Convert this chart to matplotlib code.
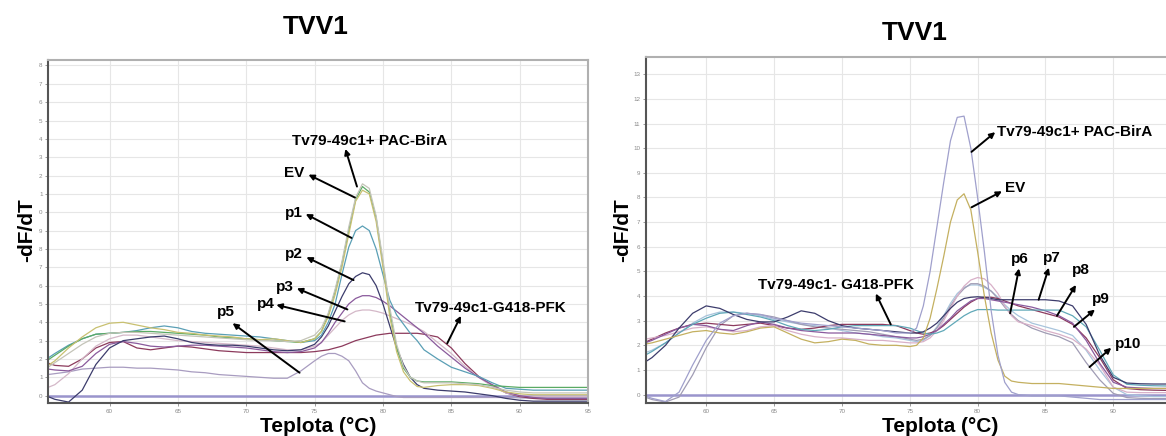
import matplotlib
matplotlib.use("Agg")
import matplotlib.pyplot as plt

plt.rcParams['font.family'] = ['Liberation Sans', 'DejaVu Sans']

# temperature grid (°C), denser around the melt peaks
temps = [55, 56, 57, 58, 59, 60, 61, 62, 63, 64,
         65, 66, 67, 68, 69, 70, 71, 72, 73, 74,
         75, 75.5, 76, 76.5, 77, 77.5, 78, 78.5, 79, 79.5,
         80, 80.5, 81, 81.5, 82, 82.5, 83, 84, 85, 86,
         87, 88, 89, 90, 91, 92, 93, 94, 95]

# ---- left panel curves (-dF/dT) ----
left_pac = [1.3, 1.8, 2.3, 2.8, 3.2, 3.4, 3.45, 3.45, 3.4, 3.35,
            3.3, 3.25, 3.2, 3.15, 3.1, 3.05, 3.0, 3.0, 2.95, 3.0,
            3.3, 3.7, 4.5, 5.8, 7.3, 9.2, 10.8, 11.55, 11.3, 9.8,
            7.4, 4.8, 2.8, 1.6, 1.0, 0.8, 0.7, 0.7, 0.7, 0.65,
            0.6, 0.45, 0.3, 0.2, 0.15, 0.15, 0.15, 0.15, 0.15]
left_ev = [1.4, 1.9, 2.6, 3.2, 3.7, 3.95, 4.0, 3.85, 3.7, 3.6,
           3.45, 3.4, 3.3, 3.25, 3.2, 3.1, 3.05, 3.1, 3.0, 2.9,
           3.1, 3.5, 4.3, 5.5, 7.0, 8.8, 10.6, 11.2, 11.0, 9.5,
           7.0, 4.3, 2.4, 1.3, 0.8, 0.5, 0.45, 0.55, 0.6, 0.6,
           0.55, 0.4, 0.2, 0.1, 0.05, 0.05, 0.05, 0.05, 0.05]
left_green = [1.7, 2.2, 2.7, 3.1, 3.35, 3.4, 3.45, 3.5, 3.5, 3.45,
              3.4, 3.35, 3.3, 3.2, 3.15, 3.1, 3.05, 3.0, 2.95, 2.9,
              3.1, 3.5, 4.4, 5.7, 7.2, 9.0, 10.7, 11.4, 11.1, 9.7,
              7.2, 4.6, 2.6, 1.5, 1.0, 0.8, 0.75, 0.75, 0.75, 0.7,
              0.65, 0.55, 0.5, 0.45, 0.45, 0.45, 0.45, 0.45, 0.45]
left_p1 = [1.8, 2.3, 2.75, 3.1, 3.35, 3.4, 3.45, 3.55, 3.7, 3.8,
           3.7, 3.5, 3.4, 3.35, 3.3, 3.25, 3.2, 3.1, 3.0, 2.9,
           3.0, 3.3, 4.0, 5.0, 6.6, 8.1, 9.0, 9.25, 9.0, 8.0,
           6.6, 5.2, 4.4, 3.9, 3.4, 3.0, 2.5, 2.0, 1.55, 1.3,
           1.05, 0.7, 0.4, 0.35, 0.3, 0.3, 0.3, 0.3, 0.3]
left_p2 = [0.1, -0.2, -0.35, 0.3, 1.7, 2.6, 3.0, 3.1, 3.2, 3.25,
           3.1, 2.9, 2.8, 2.75, 2.75, 2.7, 2.6, 2.5, 2.45, 2.5,
           2.8, 3.2, 3.8, 4.6, 5.4, 6.1, 6.5, 6.7, 6.6, 6.0,
           5.0, 3.8, 2.6, 1.7, 1.0, 0.6, 0.4, 0.3, 0.25, 0.2,
           0.1, 0.0, -0.15, -0.25, -0.3, -0.3, -0.3, -0.3, -0.3]
left_p3 = [1.5, 1.4, 1.35, 1.6, 2.3, 2.8, 2.95, 2.85, 2.7, 2.65,
           2.7, 2.75, 2.75, 2.7, 2.65, 2.6, 2.5, 2.4, 2.35, 2.4,
           2.6, 2.9, 3.4, 4.0, 4.5, 5.0, 5.3, 5.45, 5.45, 5.35,
           5.15, 4.9, 4.6, 4.3, 4.0, 3.7, 3.4, 2.7, 2.1, 1.5,
           1.0, 0.6, 0.2, 0.0, -0.1, -0.15, -0.15, -0.15, -0.15]
left_p4 = [0.3, 0.6, 1.2, 2.0, 2.7, 3.1, 3.3, 3.3, 3.2, 3.1,
           3.0, 2.95, 2.9, 2.85, 2.8, 2.75, 2.7, 2.6, 2.5, 2.5,
           2.7, 2.9, 3.3, 3.7, 4.1, 4.4, 4.6, 4.67, 4.67, 4.6,
           4.5, 4.35, 4.2, 4.05, 3.9, 3.7, 3.5, 2.9, 2.3, 1.6,
           1.0, 0.5, 0.15, 0.0, -0.05, -0.05, -0.05, -0.05, -0.05]
left_g418 = [1.9, 1.65, 1.6, 2.0, 2.6, 2.9, 2.95, 2.6, 2.5, 2.6,
             2.7, 2.65, 2.55, 2.45, 2.4, 2.35, 2.35, 2.35, 2.35, 2.35,
             2.4, 2.45, 2.5, 2.6, 2.7, 2.85, 3.0, 3.1, 3.2, 3.3,
             3.35, 3.4, 3.4, 3.4, 3.4, 3.4, 3.35, 3.2, 2.6, 1.75,
             1.05, 0.55, 0.15, -0.05, -0.15, -0.2, -0.2, -0.2, -0.2]
left_p5 = [1.1, 1.2, 1.3, 1.45, 1.5, 1.55, 1.55, 1.5, 1.5, 1.45,
           1.4, 1.3, 1.25, 1.15, 1.1, 1.05, 1.0, 0.95, 0.95, 1.35,
           1.9, 2.15, 2.3, 2.3, 2.15, 1.9, 1.35, 0.7, 0.4, 0.25,
           0.15, 0.05, -0.05, -0.1, -0.1, -0.1, -0.1, -0.1, -0.1, -0.1,
           -0.1, -0.1, -0.1, -0.12, -0.15, -0.15, -0.15, -0.15, -0.15]

# ---- right panel curves ----
right_pac = [0.05, -0.15, -0.28, 0.1, 1.2, 2.2, 2.9, 3.2, 3.3, 3.25,
             3.1, 3.0, 2.9, 2.85, 2.8, 2.75, 2.7, 2.65, 2.6, 2.5,
             2.5, 2.7, 3.6, 5.0, 6.8, 8.6, 10.3, 11.25, 11.3, 10.0,
             8.0, 5.8, 3.4, 1.6, 0.5, 0.1, 0.0, -0.05, -0.05, -0.05,
             -0.1, -0.15, -0.2, -0.2, -0.2, -0.2, -0.2, -0.2, -0.2]
right_ev = [2.0, 2.1, 2.25, 2.4, 2.55, 2.6, 2.5, 2.45, 2.55, 2.7,
            2.75, 2.5, 2.25, 2.1, 2.15, 2.25, 2.2, 2.05, 2.0, 2.0,
            1.95, 2.0, 2.3, 3.1, 4.3, 5.6, 7.0, 7.9, 8.15, 7.5,
            5.8, 4.0, 2.5, 1.4, 0.75, 0.55, 0.5, 0.45, 0.45, 0.45,
            0.4, 0.35, 0.3, 0.25, 0.25, 0.25, 0.25, 0.25, 0.25]
right_g418 = [2.0, 2.25, 2.5, 2.7, 2.85, 2.9, 2.85, 2.8, 2.85, 2.9,
              2.8, 2.7, 2.65, 2.7, 2.8, 2.85, 2.85, 2.85, 2.85, 2.8,
              2.6, 2.5, 2.45, 2.5, 2.6, 2.8, 3.05, 3.3, 3.55, 3.75,
              3.9, 3.95, 3.95, 3.9, 3.8, 3.7, 3.6, 3.45, 3.3, 3.15,
              2.85, 2.3, 1.5, 0.6, 0.25, 0.2, 0.18, 0.17, 0.17]
right_p6 = [2.2, 2.3, 2.4, 2.55, 2.7, 2.75, 2.65, 2.55, 2.6, 2.75,
            2.8, 2.6, 2.45, 2.35, 2.3, 2.3, 2.25, 2.2, 2.2, 2.15,
            2.1, 2.1, 2.15, 2.3, 2.6, 3.0, 3.5, 4.0, 4.4, 4.65,
            4.75, 4.7, 4.45, 4.1, 3.6, 3.2, 2.95, 2.8, 2.6, 2.45,
            2.25, 1.85, 1.2, 0.3, 0.1, 0.08, 0.08, 0.08, 0.08]
right_p7 = [1.15, 1.5, 2.0, 2.7, 3.3, 3.6, 3.5, 3.25, 3.05, 2.95,
            2.95, 3.15, 3.4, 3.3, 3.0, 2.8, 2.7, 2.65, 2.6, 2.55,
            2.5, 2.5, 2.55, 2.7, 2.9, 3.2, 3.5, 3.75, 3.9, 3.95,
            3.97, 3.95, 3.9, 3.85, 3.85, 3.85, 3.85, 3.85, 3.85, 3.8,
            3.6, 2.85, 1.6, 0.7, 0.47, 0.44, 0.43, 0.43, 0.43]
right_p8 = [2.0, 2.2, 2.45, 2.7, 2.85, 2.8, 2.65, 2.6, 2.8, 2.95,
            2.85, 2.7, 2.6, 2.55, 2.5, 2.5, 2.5, 2.45, 2.4, 2.35,
            2.3, 2.3, 2.35, 2.45, 2.6, 2.85, 3.1, 3.4, 3.6, 3.8,
            3.9, 3.9, 3.85, 3.8, 3.75, 3.7, 3.65, 3.55, 3.4, 3.2,
            2.9, 2.2, 1.27, 0.5, 0.3, 0.27, 0.25, 0.25, 0.25]
right_p9 = [1.45, 1.75, 2.1, 2.5, 2.85, 3.1, 3.3, 3.35, 3.25, 3.15,
            3.0, 2.8, 2.65, 2.6, 2.65, 2.75, 2.8, 2.8, 2.8, 2.8,
            2.7, 2.6, 2.5, 2.45, 2.5, 2.6, 2.8, 3.0, 3.2, 3.35,
            3.45, 3.45, 3.45, 3.43, 3.43, 3.43, 3.43, 3.43, 3.43, 3.43,
            3.2, 2.75, 1.8, 0.8, 0.42, 0.38, 0.36, 0.35, 0.35]
right_p10 = [0.0, -0.2, -0.3, -0.1, 0.8, 1.9, 2.8, 3.2, 3.3, 3.25,
             3.15, 3.0, 2.85, 2.75, 2.7, 2.65, 2.6, 2.55, 2.45, 2.35,
             2.25, 2.2, 2.25, 2.4, 2.7, 3.1, 3.6, 4.0, 4.3, 4.5,
             4.5, 4.4, 4.2, 3.9, 3.55, 3.25, 3.0, 2.7, 2.5, 2.35,
             2.1, 1.3, 0.6, 0.05, -0.12, -0.15, -0.16, -0.16, -0.16]
right_lightblue = [1.6, 1.8, 2.1, 2.5, 2.9, 3.2, 3.35, 3.35, 3.3, 3.2,
                   3.05, 2.95, 2.85, 2.8, 2.7, 2.6, 2.5, 2.45, 2.35, 2.3,
                   2.2, 2.15, 2.2, 2.4, 2.75, 3.2, 3.7, 4.1, 4.35, 4.45,
                   4.45, 4.35, 4.2, 3.95, 3.65, 3.4, 3.2, 2.9, 2.75, 2.6,
                   2.4, 1.8, 1.0, 0.3, 0.0, -0.05, -0.08, -0.08, -0.08]

left_yticks = list(range(0, 19))
left_ytick_labels = ['0', '1', '2', '3', '4', '5', '6', '7', '8', '9',
                     '0', '1', '2', '3', '4', '5', '6', '7', '8']
left_xticks = [60, 65, 70, 75, 80, 85, 90, 95]
right_yticks = list(range(0, 14))
right_xticks = [60, 65, 70, 75, 80, 85, 90]

# labels: (text, text_xy, arrow_head, arrow_tail, ha)
left_labels = [
    ("Tv79-49c1+ PAC-BirA", (79.0, 13.9), (77.25, 13.45), (78.1, 11.4), 'center'),
    ("EV", (73.5, 12.15), (74.55, 12.05), (77.95, 10.8), 'center'),
    ("p1", (73.5, 9.95), (74.35, 9.9), (77.7, 8.6), 'center'),
    ("p2", (73.5, 7.7), (74.4, 7.55), (77.85, 6.3), 'center'),
    ("p3", (72.85, 5.95), (73.7, 5.85), (77.4, 4.7), 'center'),
    ("p4", (71.4, 5.0), (72.2, 4.95), (77.2, 4.05), 'center'),
    ("p5", (68.5, 4.55), (69.0, 3.95), (73.9, 1.25), 'center'),
    ("Tv79-49c1-G418-PFK", (87.9, 4.8), (85.7, 4.35), (84.7, 2.85), 'center'),
]
right_labels = [
    ("Tv79-49c1+ PAC-BirA", (81.4, 10.65), (81.3, 10.65), (79.55, 9.85), 'left'),
    ("EV", (82.0, 8.4), (81.8, 8.25), (79.55, 7.6), 'left'),
    ("Tv79-49c1- G418-PFK", (69.6, 4.45), (72.5, 4.1), (73.6, 2.85), 'center'),
    ("p6", (83.1, 5.5), (83.05, 5.12), (82.4, 3.3), 'center'),
    ("p7", (85.5, 5.55), (85.25, 5.15), (84.5, 3.85), 'center'),
    ("p8", (87.6, 5.05), (87.25, 4.45), (85.85, 3.2), 'center'),
    ("p9", (89.05, 3.9), (88.65, 3.45), (87.1, 2.75), 'center'),
    ("p10", (90.1, 2.05), (89.85, 1.9), (88.25, 1.12), 'left'),
]


def style_axes(ax, xlim, ylim, xticks, yticks, ytick_labels=None):
    ax.set_xlim(*xlim)
    ax.set_ylim(*ylim)
    ax.set_xticks(xticks)
    ax.set_yticks(yticks)
    if ytick_labels is not None:
        ax.set_yticklabels(ytick_labels)
    ax.grid(True, color='#e6e6e6', lw=0.8)
    ax.set_axisbelow(True)
    ax.tick_params(labelsize=4.5, colors='#8a8a8a', length=2, width=0.6, pad=2)
    ax.spines['left'].set_color('#555555')
    ax.spines['bottom'].set_color('#555555')
    ax.spines['top'].set_color('#b0b0b0')
    ax.spines['right'].set_color('#b0b0b0')
    for s in ax.spines.values():
        s.set_linewidth(1.5)


def draw_labels(ax, labels):
    for text, txy, head, tail, ha in labels:
        ax.annotate('', xy=head, xytext=tail,
                    arrowprops=dict(arrowstyle='-|>', color='black', lw=1.4,
                                    mutation_scale=8, shrinkA=0, shrinkB=0))
        ax.text(txy[0], txy[1], text, fontsize=11, fontweight='bold',
                ha=ha, va='center', color='black')


def main():
    fig = plt.figure(figsize=(11.66, 4.36), dpi=100)

    # left panel
    ax1 = fig.add_axes([0.0412, 0.0757, 0.4631, 0.7867])
    ax1.axhline(0, color='#9a94cc', lw=1.8)
    left_series = [
        (left_p5, '#a89cc0'), (left_g418, '#8c3a5c'), (left_p4, '#d4b8c8'),
        (left_p3, '#8a5a9c'), (left_p2, '#3c3c6c'), (left_p1, '#5a9fb5'),
        (left_green, '#5aaa64'), (left_ev, '#c8c070'), (left_pac, '#c4c4b8'),
    ]
    for vals, col in left_series:
        ax1.plot(temps, vals, color=col, lw=0.9)
    style_axes(ax1, (55.5, 95), (-0.4, 18.3), left_xticks, left_yticks, left_ytick_labels)
    draw_labels(ax1, left_labels)

    # right panel
    ax2 = fig.add_axes([0.554, 0.0757, 0.452, 0.7936])
    ax2.axhline(0, color='#9a94cc', lw=1.8)
    right_series = [
        (right_lightblue, '#a8c4dc'), (right_p10, '#a09cb4'), (right_g418, '#8c3a5e'),
        (right_p6, '#d8b0c8'), (right_p8, '#8a5a9e'), (right_p9, '#60a8b8'),
        (right_p7, '#3c3c6c'), (right_ev, '#c4b060'), (right_pac, '#a0a0cc'),
    ]
    for vals, col in right_series:
        ax2.plot(temps, vals, color=col, lw=0.9)
    style_axes(ax2, (55.56, 94.4), (-0.34, 13.7), right_xticks, right_yticks)
    ax2.spines['right'].set_visible(False)
    draw_labels(ax2, right_labels)

    # titles and axis labels
    fig.text(316 / 1166, 1 - 27 / 436, "TVV1", fontsize=19, fontweight='bold',
             ha='center', va='center')
    fig.text(915 / 1166, 1 - 33 / 436, "TVV1", fontsize=19, fontweight='bold',
             ha='center', va='center')
    fig.text(27 / 1166, 1 - 230 / 436, "-dF/dT", fontsize=15, fontweight='bold',
             rotation=90, ha='center', va='center')
    fig.text(623 / 1166, 1 - 230 / 436, "-dF/dT", fontsize=15, fontweight='bold',
             rotation=90, ha='center', va='center')
    fig.text(318 / 1166, 1 - 426 / 436, "Teplota (°C)", fontsize=15, fontweight='bold',
             ha='center', va='center')
    fig.text(940 / 1166, 1 - 426 / 436, "Teplota (°C)", fontsize=15, fontweight='bold',
             ha='center', va='center')

    fig.savefig("out.png", dpi=100)


if __name__ == "__main__":
    main()
